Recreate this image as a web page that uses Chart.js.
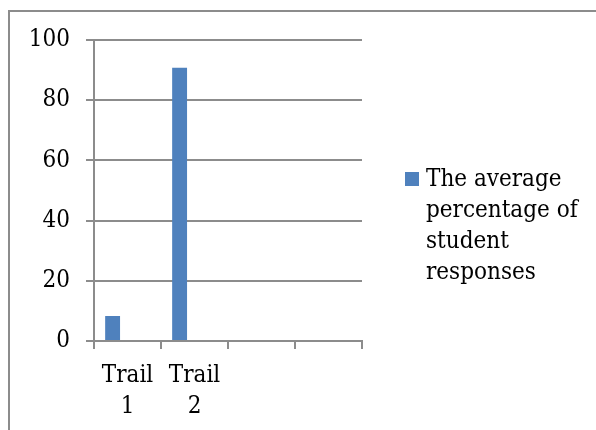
<!DOCTYPE html>
<html>
<head>
<meta charset="utf-8">
<script src="https://cdn.jsdelivr.net/npm/chart.js@4/dist/chart.umd.min.js"></script>
<style>
  html, body { margin: 0; padding: 0; background: #fff; }
  #wrap { position: relative; width: 596px; height: 430px; overflow: hidden; }
  #frame { position: absolute; left: 8px; top: 10px; width: 700px; height: 600px; border: 2px solid #8c8c8c; box-sizing: border-box; }
  #c { position: absolute; left: 0; top: 0; }
  #legend { position: absolute; left: 405px; top: 163px; font-family: "DejaVu Serif Condensed", "DejaVu Serif", serif; font-size: 24px; line-height: 31px; color: #000; }
  #legend .sw { position: absolute; left: 0; top: 9px; width: 14px; height: 14px; background: #4F81BD; }
  #legend .tx { margin-left: 21px; white-space: nowrap; }
</style>
</head>
<body>
<div id="wrap">
  <div id="frame"></div>
  <canvas id="c" width="596" height="430"></canvas>
  <div id="legend"><div class="sw"></div><div class="tx" id="legtext"></div></div>
</div>
<script>
const categories = [["Trail", "1"], ["Trail", "2"], "", ""];
const seriesName = "The average percentage of student responses";
const legendLines = ["The average", "percentage of", "student", "responses"];
const responses = [8.3, 90.8, null, null];
const emptySeriesA = [null, null, null, null];
const emptySeriesB = [null, null, null, null];
const yTicks = [0, 20, 40, 60, 80, 100];

document.getElementById('legtext').innerHTML = legendLines.join('<br>');

const gridColor = '#8c8c8c';
const font = { family: '"DejaVu Serif Condensed", "DejaVu Serif", serif', size: 24, lineHeight: '31px' };

new Chart(document.getElementById('c'), {
  type: 'bar',
  data: {
    labels: categories,
    datasets: [
      { label: seriesName, data: responses, backgroundColor: '#4F81BD', borderWidth: 0 },
      { label: '', data: emptySeriesA, backgroundColor: '#C0504D' },
      { label: '', data: emptySeriesB, backgroundColor: '#9BBB59' }
    ]
  },
  options: {
    responsive: false,
    animation: false,
    devicePixelRatio: 1,
    categoryPercentage: 0.667,
    barPercentage: 1.0,
    layout: { padding: { left: 0, top: 40, right: 234, bottom: 0 } },
    plugins: { legend: { display: false }, tooltip: { enabled: false } },
    scales: {
      x: {
        grid: { display: true, drawOnChartArea: false, drawTicks: true, tickLength: 8, color: gridColor, lineWidth: 2, offset: true },
        border: { display: true, color: gridColor, width: 2 },
        ticks: { color: '#000', font: font, padding: 11, maxRotation: 0, autoSkip: false },
        afterFit: (s) => { s.height = 89; }
      },
      y: {
        min: 0, max: 100,
        afterBuildTicks: (s) => { s.ticks = yTicks.map(v => ({ value: v })); },
        grid: { color: gridColor, lineWidth: 2, tickLength: 8, drawTicks: true },
        border: { display: true, color: gridColor, width: 2 },
        ticks: { color: '#000', font: font, padding: 16 },
        afterFit: (s) => { s.width = 94; }
      }
    }
  }
});
</script>
</body>
</html>
